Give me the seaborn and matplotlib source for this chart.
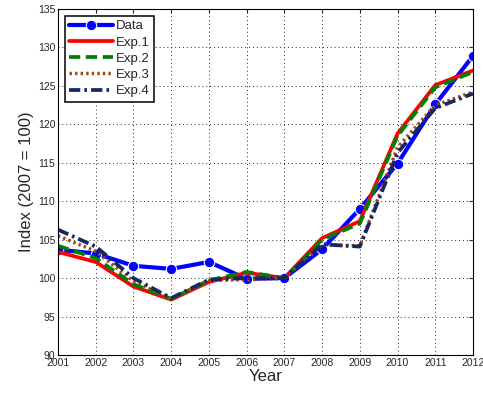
import matplotlib
matplotlib.use("Agg")
import matplotlib.pyplot as plt
import seaborn as sns
import pandas as pd

years = [2001, 2002, 2003, 2004, 2005, 2006, 2007, 2008, 2009, 2010, 2011, 2012]
data = [103.7, 103.2, 101.6, 101.2, 102.1, 99.9, 100.0, 103.75, 109.0, 114.9, 122.6, 128.9]
exp1 = [103.4, 102.1, 98.9, 97.2, 99.5, 100.7, 100.0, 105.2, 107.4, 118.8, 125.1, 127.0]
exp2 = [104.2, 102.6, 99.2, 97.3, 99.7, 100.8, 100.0, 105.0, 107.1, 118.5, 124.8, 126.8]
exp3 = [105.5, 103.5, 99.6, 97.3, 99.7, 99.8, 100.0, 104.3, 104.2, 117.0, 122.5, 124.2]
exp4 = [106.3, 104.1, 100.0, 97.4, 99.8, 100.0, 100.0, 104.4, 104.1, 116.3, 122.1, 124.0]
labels = ["Data", "Exp.1", "Exp.2", "Exp.3", "Exp.4"]

sns.set_style("white")
plt.rcParams['font.family'] = ['Liberation Sans', 'DejaVu Sans']

fig = plt.figure(figsize=(4.83, 3.94), dpi=100)
ax = fig.add_axes([58/483, 1 - 355/394, (473-58)/483, (355-9)/394])

series = [data, exp1, exp2, exp3, exp4]
styles = [
    dict(color=(0, 0, 1), linestyle='-', lw=3.0, marker='o', markersize=7.5),
    dict(color=(1, 0, 0), linestyle='-', lw=2.7),
    dict(color=(0, 0.5, 0), linestyle=(0, (3, 1.5)), lw=2.7),
    dict(color=(0.6, 0.3, 0.1), linestyle=(0, (0.7, 0.9)), lw=2.5),
    dict(color=(0.08, 0.16, 0.38), linestyle=(0, (3, 1.1, 0.7, 1.1)), lw=2.7),
]
for lab, vals, st in zip(labels, series, styles):
    df = pd.DataFrame({"Year": years, "Index": vals})
    sns.lineplot(data=df, x="Year", y="Index", ax=ax, label=lab, **st)

ax.set_xlim(2001, 2012)
ax.set_ylim(90, 135)
ax.set_xticks(years)
ax.set_yticks(range(90, 136, 5))
ax.tick_params(direction='in', labelsize=7.5, length=3, top=True, right=True, pad=2)
ax.grid(True, linestyle=(0, (1, 3)), color='black', linewidth=0.7, alpha=0.85)
for s in ax.spines.values():
    s.set_visible(True)
    s.set_color('black')
    s.set_linewidth(0.8)
ax.set_xlabel("Year", fontsize=12, labelpad=1)
ax.set_ylabel("Index (2007 = 100)", fontsize=12, labelpad=3)

leg = ax.legend(loc='upper left', fontsize=9.5, handlelength=3.3, frameon=True,
                fancybox=False, edgecolor='black', borderpad=0.35, labelspacing=0.3,
                handletextpad=0.2, borderaxespad=0.5)
leg.get_frame().set_linewidth(1.1)
leg.get_frame().set_alpha(1)

fig.savefig("out.png", dpi=100)
